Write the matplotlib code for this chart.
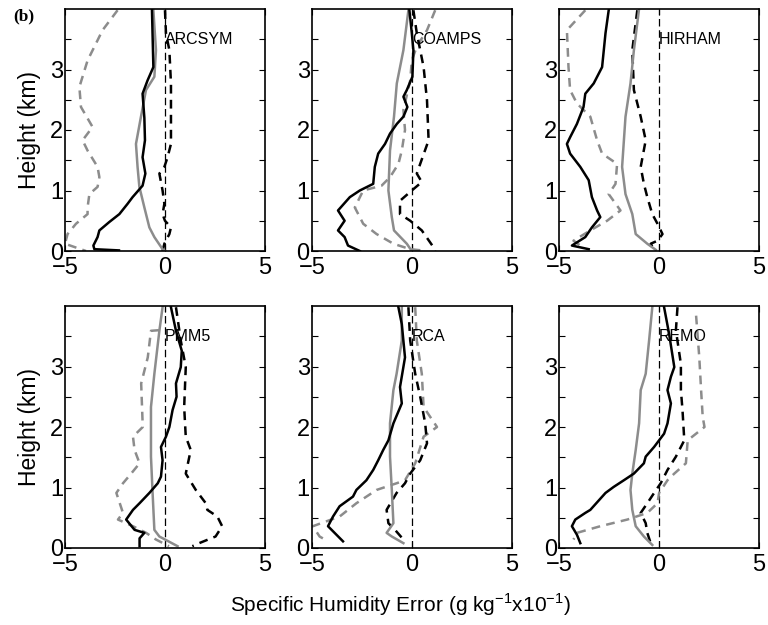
import numpy as np
import matplotlib
matplotlib.use("Agg")
import matplotlib.pyplot as plt

plt.rcParams['font.family'] = ['Liberation Sans', 'DejaVu Sans']

models = ["ARCSYM", "COAMPS", "HIRHAM", "PMM5", "RCA", "REMO"]

# each curve: (error values, heights in km)
arcsym_blk = ([-0.65, -0.58, -0.87, -1.12, -1.03, -1.0, -1.12, -0.98, -1.12, -1.62, -1.87, -2.28, -2.78, -3.28, -3.37, -3.58, -3.53, -2.3],
              [3.98, 3.04, 2.82, 2.6, 2.2, 1.83, 1.55, 1.28, 1.08, 0.89, 0.78, 0.61, 0.48, 0.34, 0.23, 0.09, 0.03, 0.01])
arcsym_gry = ([-0.58, -0.45, -0.53, -0.95, -1.2, -1.45, -1.37, -1.28, -1.03, -0.78, -0.53, -0.12, 0.0],
              [3.98, 3.32, 2.88, 2.66, 2.22, 1.77, 1.39, 1.06, 0.72, 0.39, 0.23, 0.03, 0.0])
arcsym_blkd = ([0.0, 0.05, 0.22, 0.3, 0.3, 0.3, 0.13, -0.03, -0.28, -0.12, -0.03, -0.12, 0.0, 0.3, 0.22, -0.03, -0.12],
               [3.98, 3.6, 3.32, 2.77, 2.38, 1.77, 1.55, 1.39, 1.28, 1.0, 0.78, 0.61, 0.5, 0.39, 0.28, 0.12, 0.0])
arcsym_gryd = ([-2.37, -3.12, -3.87, -4.28, -4.2, -3.62, -4.12, -3.87, -3.37, -3.28, -3.37, -3.78, -3.87, -3.87, -4.45, -4.87, -5.0, -3.95],
               [3.98, 3.65, 3.15, 2.71, 2.38, 2.05, 1.83, 1.66, 1.39, 1.22, 1.06, 0.94, 0.72, 0.61, 0.45, 0.28, 0.12, 0.0])

coamps_blk = ([-0.12, 0.0, 0.08, 0.03, -0.25, -0.42, -0.22, -0.42, -0.75, -1.09, -1.34, -1.68, -1.85, -1.93, -2.6, -3.1, -3.69, -3.36, -3.69, -3.36, -3.19, -2.6],
              [3.98, 3.6, 3.32, 2.88, 2.66, 2.55, 2.38, 2.22, 2.1, 1.94, 1.77, 1.61, 1.39, 1.11, 1.0, 0.89, 0.67, 0.5, 0.34, 0.23, 0.09, 0.0])
coamps_gry = ([-0.17, -0.42, -0.75, -0.89, -1.09, -1.17, -1.0, -0.89, -0.25, 0.0],
              [3.98, 3.32, 2.77, 2.22, 1.66, 1.0, 0.56, 0.34, 0.12, 0.0])
coamps_blkd = ([0.08, 0.25, 0.59, 0.76, 0.84, 0.42, 0.25, 0.5, 0.0, -0.59, -0.59, -0.08, 0.5, 1.09, 1.17],
               [3.98, 3.6, 3.04, 2.49, 1.83, 1.44, 1.28, 1.14, 1.0, 0.83, 0.61, 0.5, 0.34, 0.06, 0.0])
coamps_gryd = ([1.17, 0.76, 0.25, 0.0, -0.08, -0.42, -0.34, -0.5, -0.67, -1.09, -1.51, -2.43, -2.85, -2.43, -1.76, -0.92, -0.08, 0.5],
               [3.98, 3.65, 3.38, 3.15, 2.82, 2.33, 2.0, 1.66, 1.44, 1.22, 1.08, 1.0, 0.72, 0.45, 0.28, 0.12, 0.03, 0.01])

hirham_blk = ([-2.52, -2.68, -2.85, -3.27, -3.69, -3.78, -4.11, -4.45, -4.61, -4.45, -3.94, -3.52, -3.36, -3.1, -2.94, -3.36, -3.69, -4.36, -3.52],
              [3.98, 3.6, 3.04, 2.77, 2.6, 2.38, 2.1, 1.88, 1.77, 1.61, 1.39, 1.17, 0.89, 0.67, 0.56, 0.39, 0.23, 0.09, 0.03])
hirham_gry = ([-1.01, -1.26, -1.43, -1.68, -1.85, -1.68, -1.34, -1.17, -0.59, -0.17],
              [3.98, 3.32, 2.77, 2.22, 1.39, 0.94, 0.61, 0.28, 0.12, 0.02])
hirham_blkd = ([-1.09, -1.34, -1.26, -0.92, -0.67, -0.92, -0.76, -0.59, -0.34, -0.08, 0.17, -0.08, -0.42, -0.25],
               [3.98, 3.32, 2.66, 2.22, 1.83, 1.39, 1.11, 0.89, 0.61, 0.45, 0.28, 0.17, 0.12, 0.02])
hirham_gryd = ([-3.69, -4.61, -4.53, -4.45, -4.11, -3.44, -3.1, -2.85, -2.1, -2.18, -2.52, -1.93, -2.6, -3.44, -4.28, -3.94],
               [3.98, 3.65, 3.04, 2.66, 2.44, 2.22, 1.83, 1.61, 1.44, 1.11, 0.94, 0.67, 0.5, 0.34, 0.17, 0.09])

pmm5_blk = ([0.3, 0.55, 0.84, 0.79, 0.55, 0.58, 0.38, 0.22, 0.05, -0.2, -0.12, -0.2, -0.36, -0.78, -1.27, -1.6, -1.94, -1.52, -1.03, -1.27, -1.27],
            [3.98, 3.59, 3.26, 2.99, 2.72, 2.5, 2.28, 2.0, 1.84, 1.67, 1.45, 1.18, 1.07, 0.91, 0.74, 0.63, 0.47, 0.3, 0.25, 0.16, 0.03])
pmm5_gry = ([-0.12, -0.28, -0.53, -0.7, -0.7, -0.61, -0.53, -0.28, 0.63],
            [3.98, 3.59, 2.88, 2.33, 1.51, 0.85, 0.3, 0.19, 0.03])
pmm5_blkd = ([0.55, 0.79, 1.04, 0.96, 1.04, 1.29, 1.04, 1.54, 2.04, 2.12, 2.62, 2.86, 2.53, 1.71, 1.37],
             [3.98, 3.43, 2.99, 2.33, 1.84, 1.62, 1.23, 0.96, 0.74, 0.63, 0.52, 0.36, 0.19, 0.08, 0.03])
pmm5_gryd = ([-0.3, -0.7, -0.86, -1.19, -1.11, -1.6, -1.52, -1.27, -1.69, -2.1, -2.43, -2.1, -2.35, -1.6, -0.94, -0.45, 0.2],
             [3.6, 3.59, 3.15, 2.72, 2.0, 1.84, 1.62, 1.4, 1.23, 1.07, 0.91, 0.58, 0.47, 0.36, 0.25, 0.14, 0.03])

rca_blk = ([-0.67, -0.5, -0.34, -0.59, -0.5, -0.92, -1.17, -1.43, -1.68, -1.93, -2.27, -2.77, -2.94, -3.61, -3.94, -4.19, -3.86, -3.44],
           [3.98, 3.7, 3.15, 2.66, 2.39, 2.06, 1.78, 1.62, 1.45, 1.29, 1.12, 0.96, 0.85, 0.69, 0.52, 0.36, 0.25, 0.11])
rca_gry = ([-0.5, -0.5, -0.76, -0.92, -1.09, -1.09, -1.0, -0.92, -1.26, -1.0, -0.42],
           [3.98, 3.43, 2.88, 2.61, 2.06, 1.51, 0.96, 0.41, 0.25, 0.19, 0.08])
rca_blkd = ([-0.17, -0.08, 0.17, 0.42, 0.67, 0.76, 0.42, -0.08, -0.34, -0.76, -1.26, -1.17, -0.84, -0.34],
            [3.98, 3.43, 2.88, 2.5, 2.06, 1.73, 1.45, 1.23, 1.07, 0.91, 0.63, 0.41, 0.3, 0.11])
rca_gryd = ([0.17, 0.25, 0.5, 0.59, 1.26, 0.59, 0.17, -0.34, -0.76, -1.76, -2.77, -3.61, -4.95, -4.61, -4.19],
            [3.98, 3.43, 2.88, 2.33, 2.0, 1.84, 1.4, 1.12, 1.07, 0.96, 0.74, 0.52, 0.36, 0.19, 0.11])

remo_blk = ([0.25, 0.5, 0.76, 0.59, 0.42, 0.59, 0.42, 0.25, 0.0, -0.25, -0.67, -0.76, -1.26, -1.76, -2.27, -2.68, -3.44, -3.69, -4.19, -4.36, -4.11, -3.94],
            [3.98, 3.54, 2.99, 2.83, 2.61, 2.39, 2.06, 1.89, 1.78, 1.67, 1.51, 1.4, 1.23, 1.12, 1.01, 0.91, 0.63, 0.58, 0.47, 0.36, 0.22, 0.08])
remo_gry = ([-0.34, -0.5, -0.67, -0.92, -1.0, -1.17, -1.34, -1.43, -1.34, -1.17, -0.76, -0.34],
            [3.98, 3.43, 2.88, 2.61, 2.06, 1.62, 1.23, 0.96, 0.63, 0.36, 0.19, 0.05])
remo_blkd = ([0.92, 0.84, 1.09, 1.09, 1.17, 1.26, 0.84, 0.42, 0.08, -0.25, -0.59, -0.92, -0.67, -0.59, -0.42],
             [3.98, 3.6, 3.04, 2.61, 2.28, 1.78, 1.51, 1.29, 1.07, 0.91, 0.74, 0.58, 0.41, 0.25, 0.08])
remo_gryd = ([1.85, 2.01, 2.1, 2.18, 2.27, 1.43, 1.34, 0.76, 0.42, 0.0, -0.08, -0.59, -1.59, -2.94, -4.11, -4.28],
             [3.84, 3.15, 2.61, 2.17, 2.0, 1.78, 1.4, 1.23, 1.12, 0.91, 0.74, 0.58, 0.47, 0.36, 0.25, 0.14])

curves = {
    "ARCSYM": (arcsym_blk, arcsym_gry, arcsym_blkd, arcsym_gryd),
    "COAMPS": (coamps_blk, coamps_gry, coamps_blkd, coamps_gryd),
    "HIRHAM": (hirham_blk, hirham_gry, hirham_blkd, hirham_gryd),
    "PMM5": (pmm5_blk, pmm5_gry, pmm5_blkd, pmm5_gryd),
    "RCA": (rca_blk, rca_gry, rca_blkd, rca_gryd),
    "REMO": (remo_blk, remo_gry, remo_blkd, remo_gryd),
}

gray = "#8c8c8c"
fig = plt.figure(figsize=(7.68, 6.25), dpi=100)

lefts = [0.0846, 0.406, 0.728]
bottoms = [0.5984, 0.1232]
w, h = 0.2604, 0.3872

for i, name in enumerate(models):
    ax = fig.add_axes([lefts[i % 3], bottoms[i // 3], w, h])
    blk, gry, blkd, gryd = curves[name]
    ax.axvline(0, color="black", lw=0.9, ls=(0, (6, 3)))
    ax.plot(gryd[0], gryd[1], color=gray, lw=1.8, ls=(0, (3.5, 2.5)))
    ax.plot(blkd[0], blkd[1], color="black", lw=1.8, ls=(0, (3.5, 2.5)))
    ax.plot(gry[0], gry[1], color=gray, lw=1.8)
    ax.plot(blk[0], blk[1], color="black", lw=1.8)
    ax.text(0.0, 3.5, name, fontsize=11.5, va="center", ha="left")
    ax.set_xlim(-5, 5)
    ax.set_ylim(0, 4.0)
    ax.set_xticks([-5, 0, 5])
    ax.set_xticklabels(["\u22125", "0", "5"])
    ax.set_yticks(np.arange(0, 4.0, 0.5))
    ax.set_yticklabels(["0", "", "1", "", "2", "", "3", ""])
    ax.tick_params(direction="in", top=True, right=True, length=4, width=0.8,
                   labelsize=17)
    ax.tick_params(axis="y", pad=1.5)
    ax.tick_params(axis="x", pad=4)
    for s in ax.spines.values():
        s.set_linewidth(1.2)
    if i % 3 == 0:
        ax.set_ylabel("Height (km)", fontsize=16.5, labelpad=6)

fig.text(0.521, 0.032, "Specific Humidity Error (g kg$^{\\mathregular{-1}}$x10$^{\\mathregular{-1}}$)",
         fontsize=15, ha="center", va="center")
fig.text(0.017, 0.973, "(b)", fontsize=12.5, fontweight="bold", family="Liberation Serif",
         ha="left", va="center")

fig.savefig("out.png", dpi=100)
